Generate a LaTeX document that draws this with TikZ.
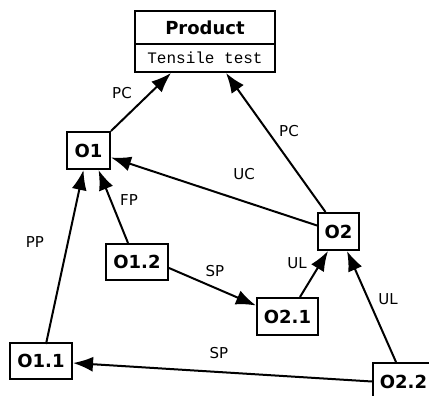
\documentclass[tikz,border=0pt]{standalone}
\usepackage{fontspec}
\setmainfont{DejaVu Sans}
\newfontfamily\lblfont{DejaVu Sans}
\newfontfamily\monofont{Liberation Mono}
\usetikzlibrary{arrows.meta,calc}
\tikzset{
  box/.style={draw, line width=2pt, inner sep=0pt, font=\fontsize{18}{21}\selectfont\bfseries, minimum height=37pt},
  edge/.style={line width=2pt, -{Latex[length=20pt,width=15pt]}},
  lbl/.style={font=\lblfont\fontsize{15}{17}\selectfont, inner sep=0pt}
}
\begin{document}
\begin{tikzpicture}[x=1pt,y=-1pt]
\useasboundingbox (0,0) rectangle (429,396);
\clip (0,0) rectangle (429,396);
% nodes
\node[box, minimum width=140pt, minimum height=33pt] (prod) at (205,27.5) {Product};
\node[box, minimum width=140pt, minimum height=28pt, font=\monofont\fontsize{16}{18}\selectfont] (test) at (205,58) {Tensile test};
\node[box, minimum width=43pt] (o1) at (88.5,150.5) {O1};
\node[box, minimum width=62pt, minimum height=36pt] (o12) at (137,262) {O1.2};
\node[box, minimum width=41pt] (o2) at (338.5,231.5) {O2};
\node[box, minimum width=61pt] (o21) at (287.5,316.5) {O2.1};
\node[box, minimum width=62pt, minimum height=36pt] (o11) at (41,361) {O1.1};
\node[box, minimum width=61pt] (o22) at (403.5,381.5) {O2.2};
% edge end points
\coordinate (pA) at ($(test.south west)+(37,0)$);
\coordinate (pB) at ($(test.south west)+(92,0)$);
% edges
\draw[edge] (o1.north east) -- (pA);
\draw[edge] ($(o2.north)+(-13,0)$) -- (pB);
\draw[edge] ($(o2.west)+(0,-6)$) -- ($(o1.east)+(0,7)$);
\draw[edge] ($(o12.north)+(-9,0)$) -- ($(o1.south)+(10,0)$);
\draw[edge] ($(o11.south west)+(37,-36)$) -- ($(o1.south)+(-5,0)$);
\draw[edge] ($(o12.east)+(0,6)$) -- ($(o21.west)+(0,-11)$);
\draw[edge] ($(o21.north)+(12.5,0)$) -- ($(o2.south)+(-10.5,0)$);
\draw[edge] ($(o22.north)+(-7.5,0)$) -- ($(o2.south)+(8.5,0)$);
\draw[edge] ($(o22.west)+(0,0)$) -- ($(o11.east)+(0,2)$);
% labels
\node[lbl] (l1) at (122,93) {PC};
\node[lbl] (l2) at (289,131) {PC};
\node[lbl] (l3) at (244,174) {UC};
\node[lbl] (l4) at (129,200) {FP};
\node[lbl] (l5) at (35,242) {PP};
\node[lbl] (l6) at (215,271) {SP};
\node[lbl] (l7) at (297,263) {UL};
\node[lbl] (l8) at (388,299) {UL};
\node[lbl] (l9) at (219,353) {SP};
\end{tikzpicture}
\end{document}
